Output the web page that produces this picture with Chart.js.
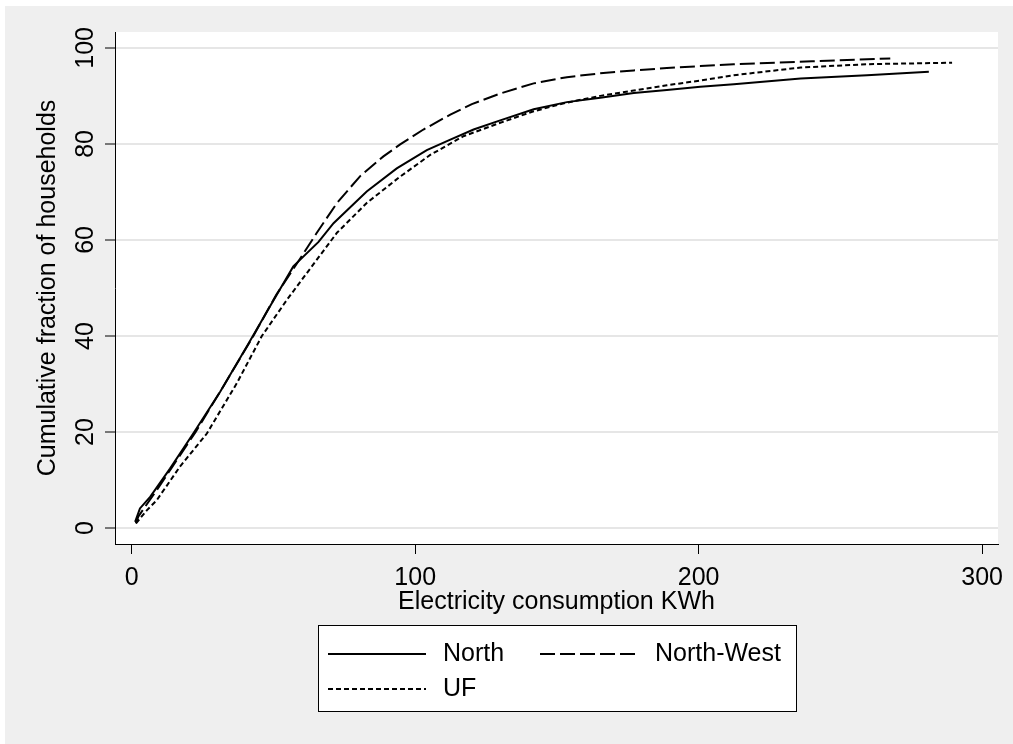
<!DOCTYPE html>
<html>
<head>
<meta charset="utf-8">
<script src="https://cdn.jsdelivr.net/npm/chart.js@4/dist/chart.umd.min.js"></script>
<style>
  body{ margin:0; background:#fff; }
  canvas{ display:block; }
</style>
</head>
<body>
<canvas id="graph" width="1013" height="744"></canvas>
<script>
// cumulative distribution of monthly household electricity use
const northKwh = [1.2, 2.9, 6.5, 13.5, 21.7, 31.2, 40.6, 48.8, 57.0, 65.9, 71.2, 82.9, 93.5, 104.1,
  112.4, 120.6, 130, 141.8, 153.5, 165.3, 177.1, 188.8, 200.6, 212.4, 236, 259.4, 281.2];
const northPct = [1.3, 4.1, 6.5, 12.4, 19.7, 28.4, 37.8, 46.2, 54.5, 59.6, 63.5, 70.1, 74.9, 78.7,
  80.9, 83.0, 84.9, 87.2, 88.7, 89.6, 90.6, 91.2, 91.9, 92.4, 93.6, 94.3, 95.0];

const nwKwh = [1.5, 2.3, 8.8, 14, 22.5, 32, 42.9, 51, 59.5, 65.3, 72.4, 80.6, 88.8, 94.7,
  102.9, 112.4, 120, 130, 141.8, 153.5, 165.3, 177.1, 188.8, 200.6, 212.4, 240, 267.6];
const nwPct = [1.0, 2.4, 7.9, 12.5, 20.0, 29.2, 40.0, 48.6, 56.2, 61.5, 67.7, 73.3, 77.4, 79.9,
  83.0, 86.1, 88.3, 90.5, 92.6, 93.9, 94.7, 95.3, 95.8, 96.2, 96.6, 97.2, 97.8];

const ufKwh = [1.5, 5.3, 8.8, 17, 26.5, 37.1, 45.9, 54.7, 65.3, 72.4, 82.9, 94.7, 105.3, 117,
  130, 141.8, 153.5, 165.3, 177.1, 188.8, 200.6, 212.4, 236, 259.4, 289.4];
const ufPct = [1.0, 3.7, 5.8, 12.8, 19.7, 30.2, 40.0, 47.5, 55.9, 61.5, 67.7, 73.2, 77.7, 81.6,
  84.4, 86.8, 88.6, 90.0, 91.1, 92.2, 93.2, 94.3, 95.9, 96.6, 96.9];

const seriesNames = ['North', 'North-West', 'UF'];
const xTicks = [0, 100, 200, 300];
const yTicks = [0, 20, 40, 60, 80, 100];

const FONT = '"Liberation Sans", Arial, sans-serif';

function toPoints(xs, ys){
  return xs.map((x, i) => ({x: x, y: ys[i]}));
}

// gray graph region, white plot region
const stataBackground = {
  id: 'stataBackground',
  beforeDraw(chart){
    const ctx = chart.ctx;
    const a = chart.chartArea;
    ctx.save();
    ctx.fillStyle = '#fff';
    ctx.fillRect(0, 0, chart.width, chart.height);
    ctx.fillStyle = '#efefef';
    ctx.fillRect(5, 6, chart.width - 5, chart.height - 6);
    ctx.fillStyle = '#fff';
    ctx.fillRect(a.left, a.top, a.right - a.left, a.bottom - a.top);
    ctx.restore();
  }
};

// boxed legend, two keys per row
const boxLegend = {
  id: 'boxLegend',
  afterDraw(chart){
    const ctx = chart.ctx;
    const a = chart.chartArea;
    const w = 478, h = 86;
    const left = Math.round((a.left + a.right) / 2 - w / 2);
    const top = 625;
    const slots = [[10, 29], [222, 29], [10, 64]];
    ctx.save();
    ctx.fillStyle = '#fff';
    ctx.fillRect(left, top, w, h);
    ctx.strokeStyle = '#000';
    ctx.lineWidth = 1;
    ctx.strokeRect(left + 0.5, top + 0.5, w, h);
    ctx.font = '25px ' + FONT;
    ctx.textBaseline = 'middle';
    ctx.textAlign = 'left';
    chart.data.datasets.forEach((ds, i) => {
      const sx = left + slots[i][0];
      const sy = top + slots[i][1];
      ctx.setLineDash(ds.borderDash || []);
      ctx.lineWidth = 2;
      ctx.beginPath();
      ctx.moveTo(sx, sy);
      ctx.lineTo(sx + 98, sy);
      ctx.stroke();
      ctx.setLineDash([]);
      ctx.fillStyle = '#000';
      ctx.fillText(ds.label, sx + 115, sy);
    });
    ctx.restore();
  }
};

const lineStyle = {
  borderColor: '#000',
  borderWidth: 2,
  pointRadius: 0,
  fill: false,
  tension: 0,
  borderCapStyle: 'butt'
};

new Chart(document.getElementById('graph'), {
  type: 'line',
  data: {
    datasets: [
      Object.assign({label: seriesNames[0], data: toPoints(northKwh, northPct), borderDash: []}, lineStyle),
      Object.assign({label: seriesNames[1], data: toPoints(nwKwh, nwPct), borderDash: [15, 5]}, lineStyle),
      Object.assign({label: seriesNames[2], data: toPoints(ufKwh, ufPct), borderDash: [5, 3]}, lineStyle)
    ]
  },
  options: {
    responsive: false,
    animation: false,
    layout: { padding: { left: 0, top: 32, right: 15, bottom: 0 } },
    plugins: {
      legend: { display: false },
      tooltip: { enabled: false }
    },
    scales: {
      x: {
        type: 'linear',
        min: -5.9,
        max: 305.6,
        afterBuildTicks: s => { s.ticks = xTicks.map(v => ({value: v})); },
        afterFit: s => { s.height = 200; },
        ticks: { color: '#000', padding: 9, maxRotation: 0, font: { family: FONT, size: 25 } },
        grid: { drawOnChartArea: false, tickLength: 10, tickColor: '#000', tickWidth: 1 },
        border: { color: '#000', width: 1 },
        title: {
          display: true,
          text: 'Electricity consumption KWh',
          color: '#000',
          font: { family: FONT, size: 25, lineHeight: 1.2 },
          padding: { top: 0, bottom: 127 }
        }
      },
      y: {
        min: -3.3,
        max: 103.3,
        afterBuildTicks: s => { s.ticks = yTicks.map(v => ({value: v})); },
        afterFit: s => { s.width = 115; },
        ticks: {
          color: '#000', padding: -2, minRotation: 90, maxRotation: 90,
          crossAlign: 'center', font: { family: FONT, size: 25 }
        },
        grid: { color: '#e6e6e6', lineWidth: 2, tickLength: 10, tickColor: '#000', tickWidth: 1 },
        border: { color: '#000', width: 1 },
        title: {
          display: true,
          text: 'Cumulative fraction of households',
          color: '#000',
          font: { family: FONT, size: 25, lineHeight: 1.2 },
          padding: { top: 33, bottom: 0 }
        }
      }
    }
  },
  plugins: [stataBackground, boxLegend]
});
</script>
</body>
</html>
